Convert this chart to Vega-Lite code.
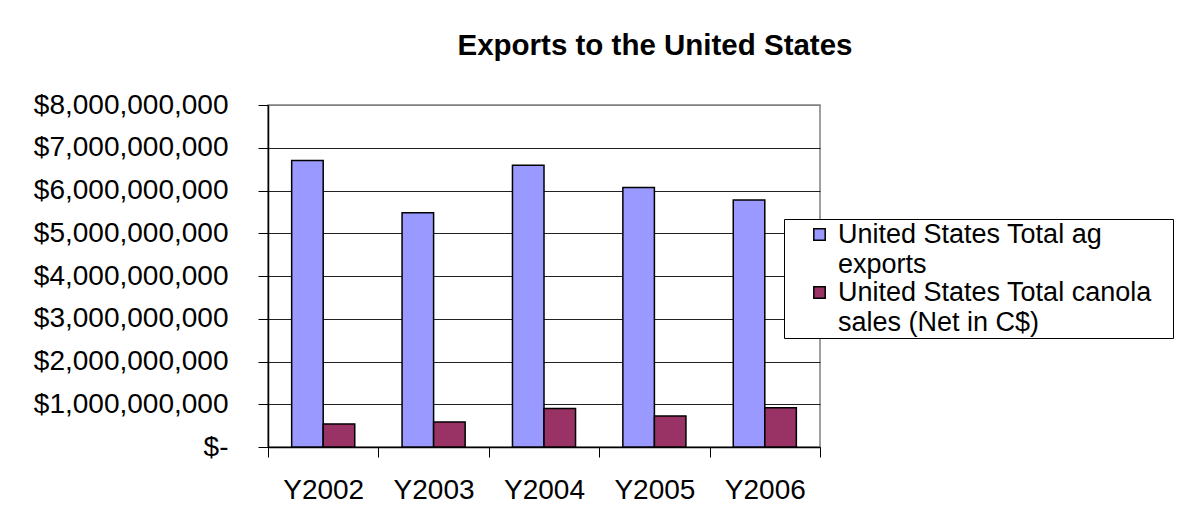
{
  "$schema": "https://vega.github.io/schema/vega-lite/v6.json",
  "width": 552,
  "height": 342,
  "autosize": {"type": "none"},
  "padding": {"left": 268, "top": 105, "right": 357, "bottom": 71},
  "background": "white",
  "title": {
    "text": "Exports to the United States",
    "font": "Liberation Sans",
    "fontSize": 29.5,
    "fontWeight": "bold",
    "color": "black",
    "anchor": "middle",
    "dx": 111,
    "offset": 30
  },
  "data": {
    "values": [
      {"year": "Y2002", "series": "United States Total ag exports", "value": 6700000000},
      {"year": "Y2002", "series": "United States Total canola sales (Net in C$)", "value": 540000000},
      {"year": "Y2003", "series": "United States Total ag exports", "value": 5480000000},
      {"year": "Y2003", "series": "United States Total canola sales (Net in C$)", "value": 585000000},
      {"year": "Y2004", "series": "United States Total ag exports", "value": 6590000000},
      {"year": "Y2004", "series": "United States Total canola sales (Net in C$)", "value": 900000000},
      {"year": "Y2005", "series": "United States Total ag exports", "value": 6070000000},
      {"year": "Y2005", "series": "United States Total canola sales (Net in C$)", "value": 725000000},
      {"year": "Y2006", "series": "United States Total ag exports", "value": 5780000000},
      {"year": "Y2006", "series": "United States Total canola sales (Net in C$)", "value": 920000000}
    ]
  },
  "mark": {"type": "bar", "stroke": "black", "strokeWidth": 1.5},
  "encoding": {
    "x": {
      "field": "year",
      "type": "nominal",
      "scale": {"paddingInner": 0, "paddingOuter": 0},
      "axis": {
        "title": null,
        "labelAngle": 0,
        "labelFont": "Liberation Sans",
        "labelFontSize": 28,
        "labelColor": "black",
        "labelPadding": 19,
        "tickBand": "extent",
        "tickSize": 10,
        "tickColor": "black",
        "tickWidth": 1,
        "domainColor": "black",
        "domainWidth": 1.5,
        "grid": false
      }
    },
    "xOffset": {
      "field": "series",
      "type": "nominal",
      "scale": {"paddingInner": 0, "paddingOuter": 0.75}
    },
    "y": {
      "field": "value",
      "type": "quantitative",
      "scale": {"domain": [0, 8000000000], "nice": false},
      "axis": {
        "title": null,
        "values": [0, 1000000000, 2000000000, 3000000000, 4000000000, 5000000000, 6000000000, 7000000000, 8000000000],
        "labelExpr": "datum.value == 0 ? '$-\u00a0\u00a0' : '$' + format(datum.value, ',')",
        "labelFont": "Liberation Sans",
        "labelFontSize": 28,
        "labelColor": "black",
        "labelLimit": 400,
        "labelPadding": 30,
        "tickSize": 10,
        "tickColor": "black",
        "tickWidth": 1,
        "domainColor": "black",
        "domainWidth": 1.5,
        "grid": true,
        "gridColor": {"condition": {"test": "datum.value == 8000000000", "value": "#808080"}, "value": "#222222"},
        "gridWidth": 1.2
      }
    },
    "color": {
      "field": "series",
      "type": "nominal",
      "scale": {
        "domain": ["United States Total ag exports", "United States Total canola sales (Net in C$)"],
        "range": ["#9999FF", "#993366"]
      },
      "legend": {
        "title": "\u00a0",
        "titleOrient": "right",
        "titleFontSize": 8,
        "titlePadding": 19,
        "orient": "none",
        "legendX": 516,
        "legendY": 114,
        "direction": "vertical",
        "labelExpr": "datum.label == 'United States Total ag exports' ? ['United States Total ag', 'exports'] : ['United States Total canola', 'sales (Net in C$)']",
        "labelFont": "Liberation Sans",
        "labelFontSize": 27,
        "labelColor": "black",
        "labelLimit": 400,
        "labelOffset": 5,
        "symbolType": "square",
        "symbolSize": 130,
        "symbolStrokeColor": "black",
        "symbolStrokeWidth": 1.5,
        "symbolOffset": 20,
        "rowPadding": 0,
        "padding": 2,
        "strokeColor": "black",
        "fillColor": "white",
        "labelBaseline": "middle",
        "encode": {
          "labels": {"update": {"lineHeight": {"value": 30}}}
        }
      }
    }
  },
  "config": {
    "view": {"stroke": "#808080", "strokeWidth": 1.5},
    "font": "Liberation Sans"
  }
}
